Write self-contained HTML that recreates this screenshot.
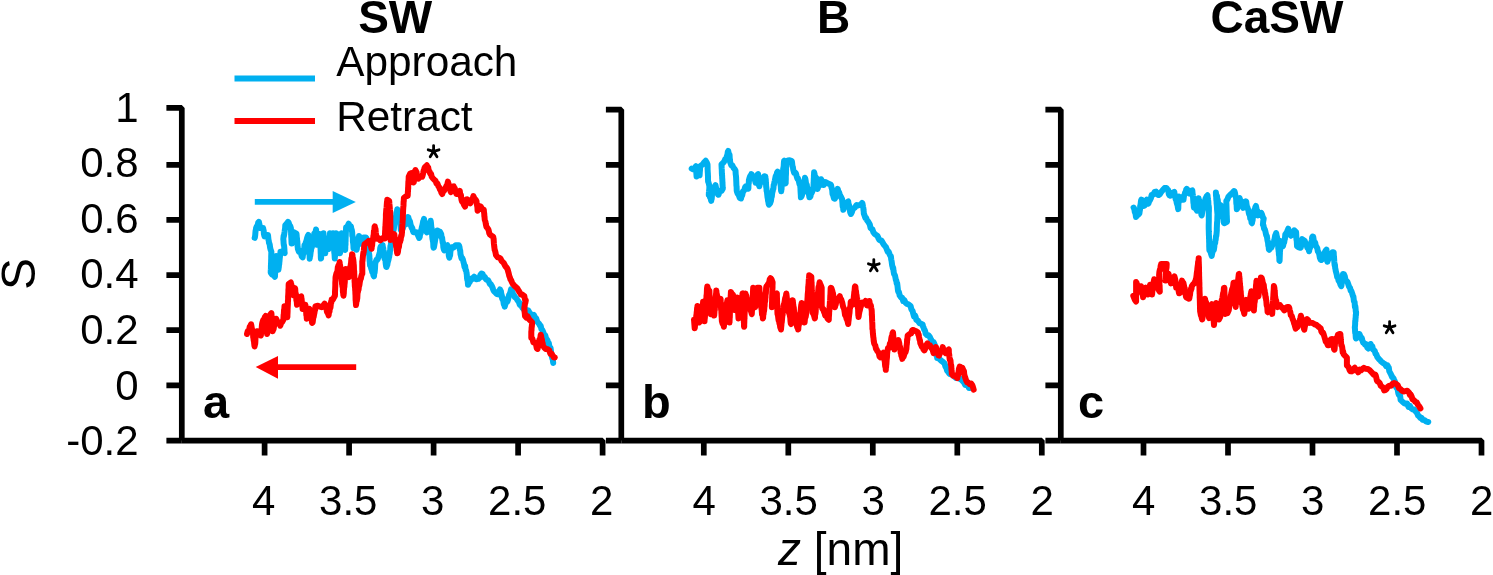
<!DOCTYPE html>
<html><head><meta charset="utf-8"><style>
html,body{margin:0;padding:0;background:#fff;width:1493px;height:575px;overflow:hidden}
svg{display:block;filter:blur(0.45px)}
text{font-family:"Liberation Sans",sans-serif;fill:#000}
.tk{font-size:42px}
.ti{font-size:46px;font-weight:bold}
.lg{font-size:42.3px}
.pl{font-size:47px;font-weight:bold}
.at{font-size:46px}
.sy{font-size:48px}
.as{font-size:34px}
</style></head><body>
<svg width="1493" height="575" viewBox="0 0 1493 575">
<path d="M166.4,107.9H181.8V440.6M166.4,164.9H181.8M166.4,219.9H181.8M166.4,275.1H181.8M166.4,330.1H181.8M166.4,385.3H181.8M166.4,440.6H181.8" stroke="#000" stroke-width="5.7" fill="none" stroke-linejoin="bevel" stroke-linecap="butt"/>
<path d="M181.8,440.6H602.6V455.5M264.6,440.6V455.5M349.1,440.6V455.5M433.6,440.6V455.5M518.1,440.6V455.5" stroke="#000" stroke-width="5.7" fill="none" stroke-linejoin="bevel"/>
<text x="263.8" y="514.6" class="tk" text-anchor="middle">4</text>
<text x="348.3" y="514.6" class="tk" text-anchor="middle">3.5</text>
<text x="432.8" y="514.6" class="tk" text-anchor="middle">3</text>
<text x="517.3" y="514.6" class="tk" text-anchor="middle">2.5</text>
<text x="601.8" y="514.6" class="tk" text-anchor="middle">2</text>
<path d="M605.9,109.7H621.3V440.6M605.9,164.9H621.3M605.9,219.9H621.3M605.9,275.1H621.3M605.9,330.1H621.3M605.9,385.3H621.3M605.9,440.6H621.3" stroke="#000" stroke-width="5.7" fill="none" stroke-linejoin="bevel" stroke-linecap="butt"/>
<path d="M621.3,440.6H1041.8V455.5M703.8,440.6V455.5M788.3,440.6V455.5M872.8,440.6V455.5M957.3,440.6V455.5" stroke="#000" stroke-width="5.7" fill="none" stroke-linejoin="bevel"/>
<text x="704.1" y="514.6" class="tk" text-anchor="middle">4</text>
<text x="788.6" y="514.6" class="tk" text-anchor="middle">3.5</text>
<text x="873.1" y="514.6" class="tk" text-anchor="middle">3</text>
<text x="957.6" y="514.6" class="tk" text-anchor="middle">2.5</text>
<text x="1042.1" y="514.6" class="tk" text-anchor="middle">2</text>
<path d="M1045.3999999999999,109.7H1060.8V440.6M1045.3999999999999,164.9H1060.8M1045.3999999999999,219.9H1060.8M1045.3999999999999,275.1H1060.8M1045.3999999999999,330.1H1060.8M1045.3999999999999,385.3H1060.8M1045.3999999999999,440.6H1060.8" stroke="#000" stroke-width="5.7" fill="none" stroke-linejoin="bevel" stroke-linecap="butt"/>
<path d="M1060.8,440.6H1481.5V455.5M1143.5,440.6V455.5M1228.0,440.6V455.5M1312.5,440.6V455.5M1397.0,440.6V455.5" stroke="#000" stroke-width="5.7" fill="none" stroke-linejoin="bevel"/>
<text x="1143.8" y="514.6" class="tk" text-anchor="middle">4</text>
<text x="1228.3" y="514.6" class="tk" text-anchor="middle">3.5</text>
<text x="1312.8" y="514.6" class="tk" text-anchor="middle">3</text>
<text x="1397.3" y="514.6" class="tk" text-anchor="middle">2.5</text>
<text x="1481.8" y="514.6" class="tk" text-anchor="middle">2</text>
<text x="138.6" y="121.7" class="tk" text-anchor="end">1</text>
<text x="138.6" y="177.3" class="tk" text-anchor="end">0.8</text>
<text x="138.6" y="232.8" class="tk" text-anchor="end">0.6</text>
<text x="138.6" y="288.4" class="tk" text-anchor="end">0.4</text>
<text x="138.6" y="344.0" class="tk" text-anchor="end">0.2</text>
<text x="138.6" y="399.6" class="tk" text-anchor="end">0</text>
<text x="138.6" y="455.1" class="tk" text-anchor="end">-0.2</text>
<text x="395.2" y="33.4" class="ti" text-anchor="middle">SW</text>
<text x="833.7" y="33.4" class="ti" text-anchor="middle">B</text>
<text x="1276.9" y="33.4" class="ti" text-anchor="middle">CaSW</text>
<path d="M234.5,78.5H315" stroke="#00B0F0" stroke-width="5.8"/>
<path d="M234.5,121H315" stroke="#FF0000" stroke-width="5.8"/>
<text x="336.3" y="76.2" class="lg">Approach</text>
<text x="336.3" y="131.4" class="lg">Retract</text>
<path d="M254.8,201.9H334" stroke="#00B0F0" stroke-width="5.8"/>
<path d="M332.7,190.9L355.8,202L332.7,213.1Z" fill="#00B0F0"/>
<path d="M278,367.2H356.2" stroke="#FF0000" stroke-width="5.8"/>
<path d="M278,355.9L255.7,367L278,378.7Z" fill="#FF0000"/>
<text x="203" y="417.8" class="pl">a</text>
<text x="642" y="417.8" class="pl">b</text>
<text x="1078" y="417.8" class="pl">c</text>
<text x="778" y="564.7" class="at"><tspan font-style="italic">z</tspan> [nm]</text>
<text transform="translate(34.8,290) rotate(-90)" class="sy">S</text>
<polyline points="254.7,237.8 254.9,237.3 255.2,235.4 255.4,232.7 255.6,230.6 255.9,229.8 256.1,228.1 256.8,226.2 257.5,225.9 258.2,222.7 258.9,221.8 259.2,223.3 259.6,225.2 259.9,227.8 260.3,228.1 263.1,228.1 263.4,229.8 263.7,230.7 263.9,233.9 264.2,235.1 264.5,236.4 266.2,234.9 268.0,235.0 268.3,238.0 268.5,239.9 268.8,241.0 269.0,243.0 269.3,243.4 269.7,244.5 270.1,247.5 270.6,249.7 271.0,250.6 271.4,251.7 271.3,253.2 271.3,253.6 271.2,256.3 271.2,258.5 271.1,261.1 271.1,262.8 271.0,262.9 271.0,265.7 270.9,265.4 270.9,268.8 270.8,269.5 270.8,269.4 270.7,272.6 272.1,274.7 273.5,275.1 274.9,276.8 275.0,276.2 275.1,274.1 275.2,270.4 275.3,270.3 275.4,269.9 275.5,266.3 275.7,265.0 275.8,265.1 275.9,261.3 276.0,260.9 276.1,258.3 276.2,259.0 276.3,255.9 276.6,258.6 276.8,259.2 277.1,259.8 277.4,262.3 277.6,264.6 277.9,267.7 278.1,266.8 278.4,269.8 278.6,268.3 278.8,267.2 279.0,265.0 279.2,264.2 279.4,261.7 279.5,261.4 279.7,258.6 279.9,256.9 280.1,254.8 280.3,253.7 280.5,251.7 282.6,252.0 284.7,253.1 284.5,251.6 284.4,249.0 284.2,246.9 284.0,245.1 283.8,244.8 283.6,243.2 283.5,240.9 283.3,239.2 283.6,236.1 283.8,236.5 284.1,235.2 284.3,233.6 284.6,231.6 284.8,230.0 285.1,228.4 285.3,225.3 286.7,223.7 288.1,221.8 288.8,223.0 289.5,225.6 290.2,225.8 290.9,228.1 291.0,230.8 291.1,232.6 291.1,234.5 291.2,235.2 291.3,238.0 291.4,238.6 291.4,239.8 291.5,242.2 291.6,243.4 291.9,243.4 292.2,241.6 292.5,239.6 292.8,235.7 293.1,235.8 293.4,233.8 293.7,232.3 296.5,233.7 296.7,235.8 296.8,238.2 297.0,238.0 297.1,241.2 297.3,241.0 297.4,243.0 297.6,246.5 297.7,246.8 297.9,249.0 298.9,251.7 299.8,251.0 300.8,252.8 301.7,256.3 302.7,257.3 303.0,254.1 303.3,254.0 303.6,253.3 303.9,250.3 304.2,248.9 304.5,245.1 304.8,244.8 305.4,243.6 306.0,241.9 306.6,240.1 307.1,237.9 307.7,236.2 308.3,235.0 308.4,238.2 308.5,236.9 308.6,238.5 308.7,243.2 308.8,242.5 308.9,244.0 309.0,245.9 309.1,249.5 309.2,251.6 309.3,250.4 309.4,253.4 309.5,254.0 309.6,256.2 309.7,258.7 310.0,256.2 310.2,256.0 310.5,253.4 310.8,251.2 311.0,250.7 311.3,247.6 311.6,246.2 311.9,247.4 312.1,243.3 312.4,242.2 312.7,241.8 312.9,240.5 313.2,237.8 313.8,237.5 314.3,233.4 314.9,233.4 315.4,232.7 316.0,229.5 316.1,229.8 316.3,233.5 316.4,235.7 316.6,235.8 316.7,237.2 316.9,240.0 317.0,241.2 317.2,242.1 317.3,244.8 317.8,242.9 318.2,240.9 318.6,239.7 319.1,237.7 319.6,235.3 320.0,234.1 320.1,235.3 320.1,238.4 320.2,238.2 320.2,240.8 320.3,240.7 320.4,244.6 320.4,245.0 320.5,245.7 320.5,248.0 320.6,249.5 320.7,253.4 320.7,253.1 320.8,254.6 320.8,256.4 320.9,258.5 321.1,258.3 321.2,255.6 321.4,253.8 321.6,252.5 321.8,249.7 321.9,248.1 322.1,247.2 322.3,243.5 322.5,242.4 322.6,241.2 322.8,239.2 323.0,238.8 323.2,236.3 323.3,236.2 323.5,233.3 323.6,235.2 323.8,236.4 323.9,238.0 324.1,240.6 324.2,241.4 324.4,243.8 324.5,243.5 324.6,246.5 324.8,247.5 324.9,248.9 325.1,251.7 325.2,253.3 325.4,251.5 325.6,250.0 325.8,248.9 325.9,247.6 326.1,244.6 326.3,242.2 326.5,241.1 326.9,242.6 327.4,245.2 327.8,247.0 328.3,248.3 328.7,248.9 328.8,246.2 329.0,247.0 329.1,244.1 329.3,240.6 329.4,241.0 329.6,240.1 329.7,236.5 329.9,235.6 330.0,233.3 330.4,234.3 330.7,235.5 331.1,238.7 331.5,238.0 331.8,242.2 332.2,242.8 332.4,241.0 332.5,237.7 332.7,235.9 332.8,235.7 333.0,233.3 333.1,236.2 333.2,236.0 333.4,239.9 333.5,238.7 333.6,242.8 333.7,243.0 333.8,243.7 334.0,246.0 334.1,248.3 334.2,251.0 334.3,252.9 334.4,252.3 334.6,255.2 334.7,257.3 334.8,258.5 334.9,256.3 335.0,256.3 335.1,252.8 335.1,250.2 335.2,248.6 335.3,249.0 335.4,246.9 335.5,246.5 335.6,244.8 335.7,243.0 335.8,238.6 335.8,239.1 335.9,237.3 336.0,235.5 336.1,233.3 338.7,235.0 338.8,237.3 338.9,239.6 339.1,240.4 339.2,241.2 339.3,243.4 339.4,244.0 339.5,246.9 339.6,246.7 339.8,248.9 339.9,251.1 340.0,253.3 340.1,252.6 340.3,250.7 340.4,247.8 340.6,247.0 340.7,243.5 340.9,242.2 341.0,243.2 341.1,239.3 341.3,238.0 341.4,236.8 341.6,234.3 341.7,233.3 342.0,235.0 342.2,235.9 342.5,237.0 342.7,239.2 343.0,242.0 343.2,242.3 343.5,245.4 344.4,247.3 345.2,249.8 345.3,247.6 345.3,246.3 345.4,243.7 345.5,244.7 345.5,241.6 345.6,241.2 345.6,240.0 345.7,236.4 345.8,235.2 345.8,234.3 345.9,231.8 346.0,229.8 346.0,229.6 346.1,227.2 347.4,226.7 348.7,223.7 349.8,226.3 350.9,226.3 351.3,228.7 351.8,230.0 352.2,232.4 352.3,235.7 352.5,236.3 352.6,236.2 352.8,238.0 352.9,241.9 353.1,241.4 353.2,243.0 353.4,245.9 353.5,248.0 353.8,246.3 354.0,244.4 354.3,242.7 354.5,241.3 354.8,239.3 355.1,241.6 355.4,242.6 355.6,244.1 355.9,247.9 356.2,247.3 356.5,249.8 356.8,248.9 357.1,246.1 357.5,244.1 357.8,241.5 358.1,242.3 358.5,240.0 358.8,238.9 359.1,235.9 359.5,237.3 359.8,239.6 360.2,239.4 360.5,241.8 360.9,243.7 361.5,241.2 362.2,239.2 362.9,240.6 363.5,237.6 366.1,237.6 366.6,238.5 367.1,240.1 367.5,242.0 368.0,244.4 368.5,246.6 368.6,248.5 368.8,248.9 368.9,253.3 369.1,255.0 369.2,254.0 369.4,256.6 369.5,259.1 369.7,261.5 369.8,262.0 370.0,265.0 370.1,265.4 370.7,266.4 371.2,268.5 371.8,270.1 372.3,272.2 372.9,272.3 373.4,275.2 374.0,276.4 374.2,273.7 374.4,272.4 374.6,272.6 374.8,270.6 375.0,268.6 375.2,264.3 375.4,262.9 375.6,262.3 376.4,259.9 377.1,260.1 377.9,258.7 378.7,256.0 379.1,254.7 379.5,253.6 379.9,252.3 380.2,248.3 380.6,246.8 381.0,246.6 382.6,245.1 382.9,248.1 383.1,247.3 383.4,249.7 383.7,250.9 383.9,252.6 384.2,256.0 384.5,258.7 384.9,258.6 385.2,259.6 385.5,261.2 385.8,264.4 386.2,266.9 386.5,267.0 386.9,265.4 387.3,265.2 387.7,262.3 388.1,261.0 388.5,259.7 388.9,257.6 389.2,256.8 389.4,255.0 389.7,254.0 389.9,251.5 390.2,250.2 390.4,246.3 390.7,245.6 390.9,244.0 391.2,242.0 391.5,241.4 391.8,238.6 392.1,238.0 392.5,235.0 392.8,234.0 393.1,233.2 393.4,230.4 393.7,229.7 394.0,227.7 394.3,223.9 394.6,222.9 394.9,222.3 395.2,219.9 395.4,217.6 395.7,218.6 396.0,217.2 396.3,213.5 396.6,212.3 396.9,211.9 397.2,209.3 397.8,209.8 398.5,213.6 399.1,215.0 399.3,215.5 399.5,217.7 399.7,221.2 399.9,220.4 400.2,222.1 400.4,225.0 400.6,227.0 400.8,229.9 401.0,230.4 402.0,229.6 402.9,228.1 403.9,224.9 404.9,224.6 405.5,224.6 406.0,221.3 406.6,220.4 407.1,218.2 407.7,217.0 408.3,217.1 408.9,219.9 409.4,220.4 410.0,221.6 410.6,224.6 411.2,226.5 411.8,228.1 412.3,228.0 412.9,230.9 413.5,232.3 416.3,232.3 417.3,233.7 418.2,235.7 419.2,238.0 419.7,237.0 420.1,234.2 420.6,233.5 421.1,230.4 421.5,229.1 421.9,227.0 422.3,225.9 422.8,223.3 423.2,221.0 423.6,221.1 424.0,218.9 424.4,221.0 424.7,223.2 425.1,222.7 425.4,226.9 425.8,228.2 426.2,230.3 426.5,231.8 426.9,232.3 427.4,231.2 428.0,230.0 428.5,227.4 429.1,226.6 429.6,223.1 430.2,223.3 430.7,220.8 430.9,222.3 431.1,225.0 431.2,225.7 431.4,228.4 431.6,227.8 431.8,229.4 432.0,233.9 432.1,234.2 432.3,237.2 432.5,239.0 432.7,239.8 432.9,241.1 433.1,241.7 433.2,242.9 433.4,246.9 433.6,247.6 433.9,247.3 434.3,245.4 434.6,243.5 435.0,241.1 435.3,239.2 435.7,237.0 436.0,236.4 436.4,235.3 436.7,234.9 437.1,233.4 437.4,230.4 438.7,231.4 439.9,231.7 441.2,234.2 441.5,236.7 441.8,238.2 442.1,237.6 442.4,240.5 442.7,242.9 443.0,242.4 443.3,246.9 443.6,248.6 443.9,249.5 444.2,250.4 445.2,247.3 446.3,245.6 447.3,245.2 447.6,246.5 447.9,247.3 448.2,250.1 448.5,250.8 448.8,255.6 449.1,256.9 449.4,257.7 449.8,254.6 450.1,255.5 450.4,251.5 450.8,249.8 451.1,249.5 451.5,247.2 453.6,247.6 455.7,245.2 458.8,245.2 459.1,245.7 459.5,247.1 459.9,250.0 460.2,250.6 460.5,254.2 460.9,255.6 461.5,258.4 462.1,257.9 462.8,259.3 463.4,261.7 464.0,263.9 464.5,266.9 465.1,265.9 465.6,270.1 466.1,270.2 466.3,271.4 466.6,273.4 466.8,274.4 467.0,278.1 467.3,279.8 467.5,280.4 467.7,280.5 468.0,284.8 468.2,284.8 469.0,282.0 469.8,282.0 470.5,279.1 471.3,278.6 472.8,278.9 474.2,276.7 476.3,279.2 478.4,278.8 479.4,278.0 480.5,274.7 481.5,273.6 482.6,274.1 483.6,277.0 484.6,276.8 485.7,278.8 486.7,279.8 487.8,279.9 488.8,281.5 489.8,284.0 490.6,283.9 491.5,285.6 492.3,287.0 493.2,289.6 494.0,291.3 495.4,292.5 496.8,294.1 498.2,294.4 498.8,291.6 499.4,290.8 500.0,289.4 500.4,291.4 500.9,291.2 501.3,293.9 501.7,295.2 502.1,298.7 502.6,297.4 503.0,300.1 503.4,301.6 503.8,304.2 504.3,304.5 504.7,306.6 505.4,304.1 506.0,302.8 506.6,301.8 507.3,301.8 508.0,299.7 508.6,297.2 509.1,294.9 509.6,294.3 510.0,293.1 510.5,291.9 511.0,289.4 511.8,290.8 512.6,292.2 513.3,294.9 514.1,295.4 514.9,297.2 516.2,298.0 517.5,300.2 518.8,301.9 519.8,304.9 520.8,303.9 521.7,306.5 522.7,308.2 524.1,309.6 525.5,310.0 526.9,310.1 528.3,310.4 529.7,312.9 531.1,314.7 532.5,315.6 533.8,314.8 535.2,317.6 536.2,318.5 537.2,321.6 538.1,322.7 539.1,323.8 539.9,325.5 540.7,325.8 541.4,329.1 542.2,329.9 543.0,331.6 543.8,333.8 544.6,335.6 545.3,335.5 546.1,338.8 546.9,339.5 547.5,340.4 548.2,344.2 548.8,343.0 549.5,347.0 550.1,347.3 550.5,347.8 550.9,350.4 551.2,353.2 551.6,355.1 552.0,357.3 552.4,358.7 552.8,359.7 553.2,362.9" fill="none" stroke="#00B0F0" stroke-width="6.0" stroke-linejoin="round" stroke-linecap="round"/>
<polyline points="247.0,334.0 247.7,331.2 248.4,331.9 249.1,330.0 249.7,326.7 250.4,325.9 251.1,324.3 251.4,325.9 251.8,328.2 252.2,330.4 252.5,331.2 252.7,331.6 253.0,333.1 253.2,337.4 253.4,337.8 253.7,340.5 253.9,339.8 254.1,342.9 254.4,345.5 254.6,346.5 254.8,343.9 255.1,344.5 255.3,342.7 255.5,338.2 255.8,336.5 256.0,336.4 256.2,336.0 256.5,332.5 256.7,331.2 258.1,331.7 259.5,333.8 260.9,335.4 261.1,332.1 261.3,330.9 261.5,329.8 261.7,328.2 261.9,325.6 262.1,323.8 262.3,322.9 263.1,320.3 264.0,319.3 264.9,317.0 265.7,315.9 265.8,316.0 266.0,320.3 266.1,321.0 266.2,322.9 266.3,323.1 266.5,327.3 266.6,328.6 266.7,327.9 266.8,330.2 267.0,333.1 267.1,334.0 267.3,333.0 267.5,332.1 267.7,328.8 267.9,328.5 268.1,326.3 268.2,323.5 268.4,322.8 268.6,322.1 268.8,320.3 269.0,317.6 269.2,315.9 270.2,314.8 271.3,313.1 271.4,313.3 271.6,315.6 271.7,319.0 271.8,319.4 271.9,320.3 272.1,323.1 272.2,325.3 272.3,326.8 272.4,327.5 272.6,329.4 272.7,331.2 273.1,329.7 273.6,329.0 274.0,326.6 274.4,324.6 274.9,323.4 275.3,320.3 275.8,318.8 276.2,318.7 277.0,320.8 277.8,323.0 278.7,323.2 279.5,324.0 280.3,325.7 281.2,322.8 282.2,322.0 283.1,320.1 283.3,319.9 283.5,317.5 283.6,315.0 283.8,314.3 284.0,310.6 284.1,309.7 284.3,309.4 284.5,306.2 284.9,308.0 285.3,309.2 285.7,310.2 286.1,312.7 286.5,315.6 286.9,314.1 287.3,317.3 287.4,316.5 287.4,315.0 287.5,313.5 287.6,311.4 287.6,309.9 287.7,307.3 287.8,305.8 287.9,303.7 287.9,300.8 288.0,301.8 288.1,299.2 288.1,296.3 288.2,295.6 288.3,293.9 288.4,291.8 288.4,290.1 288.5,289.0 288.6,287.6 288.6,285.9 288.7,283.9 290.8,282.5 291.1,284.2 291.4,284.6 291.7,287.0 292.0,288.6 292.3,291.7 292.6,294.4 292.9,295.0 293.4,294.2 293.9,292.5 294.5,290.8 295.0,288.1 295.2,289.0 295.4,292.5 295.6,293.7 295.8,293.4 296.0,294.9 296.2,296.6 296.4,300.6 296.6,300.7 296.8,301.9 297.0,304.8 297.8,303.5 298.7,300.9 299.5,298.4 300.4,297.0 301.2,296.4 301.4,298.3 301.6,298.9 301.8,301.1 302.0,304.3 302.2,305.3 302.4,306.6 302.6,309.0 303.5,307.5 304.5,304.7 305.4,304.8 305.6,306.2 305.8,308.0 305.9,309.0 306.1,310.5 306.3,314.8 306.4,315.3 306.6,316.0 306.8,318.7 307.3,317.4 307.7,316.5 308.2,312.3 308.7,310.7 309.1,309.5 309.6,309.0 309.9,311.4 310.3,311.4 310.6,314.9 311.0,316.5 311.3,317.8 311.6,318.5 312.0,322.7 312.3,322.9 312.7,322.2 313.0,319.6 313.4,317.0 313.7,316.7 314.1,314.2 314.4,313.1 314.8,310.6 315.1,310.0 315.4,306.5 315.8,306.2 317.9,305.8 320.0,306.7 321.6,307.2 323.1,305.8 324.7,303.6 325.3,304.7 325.8,308.1 326.4,308.0 326.9,311.7 327.5,312.7 328.0,313.4 328.6,315.3 328.9,312.9 329.2,310.6 329.5,311.8 329.8,307.5 330.1,308.5 330.5,307.4 330.8,304.5 331.1,301.7 331.4,302.3 331.7,299.6 332.8,299.8 333.8,297.7 334.9,295.7 335.0,294.0 335.0,291.9 335.1,290.1 335.2,288.0 335.2,287.8 335.3,285.3 335.3,282.8 335.4,280.8 335.5,280.9 335.5,278.0 335.6,277.0 336.0,275.3 336.5,273.1 336.9,273.2 337.4,271.7 337.8,267.2 338.3,266.1 338.7,264.9 339.2,265.3 339.6,262.1 339.8,264.7 340.0,264.9 340.2,266.2 340.5,269.3 340.7,271.5 340.9,273.5 341.1,273.8 341.3,275.0 341.5,278.4 341.7,279.5 341.8,280.5 342.0,283.8 342.2,283.1 342.4,286.3 342.6,285.9 342.8,287.9 342.9,292.0 343.1,291.4 343.3,294.8 343.5,295.7 343.6,294.4 343.8,293.5 343.9,290.3 344.1,288.5 344.2,286.7 344.4,286.9 344.5,284.4 344.6,283.9 344.8,282.0 344.9,277.9 345.1,277.6 345.2,274.5 345.4,272.6 345.5,271.1 345.7,271.9 345.8,269.1 346.4,271.6 347.1,273.3 347.7,273.3 348.4,275.8 349.0,277.0 349.2,276.3 349.4,273.4 349.7,272.4 349.9,269.6 350.1,267.6 350.3,266.5 350.6,266.9 350.8,264.2 351.0,263.8 351.2,260.7 351.4,258.5 351.7,258.5 351.9,257.0 352.1,254.3 352.4,254.5 352.7,258.3 353.0,258.2 353.3,259.9 353.6,262.9 353.7,265.8 353.8,264.7 353.9,266.9 354.0,271.0 354.1,270.8 354.2,271.4 354.2,273.2 354.3,275.1 354.4,278.3 354.5,277.9 354.6,282.1 354.7,282.0 354.8,285.5 354.9,286.9 355.0,286.6 355.1,288.1 355.2,290.4 355.3,290.8 355.4,294.2 355.4,293.9 355.5,295.4 355.6,300.2 355.7,299.6 355.8,302.2 355.9,303.3 356.0,305.1 356.3,302.8 356.5,300.2 356.8,301.2 357.0,299.7 357.3,297.9 357.5,293.5 357.8,292.1 358.0,291.6 358.3,289.5 358.6,289.5 358.9,286.5 359.3,285.4 359.6,283.7 359.9,281.6 360.4,279.3 360.9,278.6 361.3,276.3 361.8,274.5 362.3,273.8 362.3,270.7 362.3,269.5 362.3,270.0 362.3,266.5 362.3,265.4 362.3,263.5 362.3,261.3 362.5,261.0 362.8,257.5 363.0,255.5 363.2,253.9 363.5,252.1 363.7,252.1 363.9,250.5 364.1,246.9 364.4,245.3 364.6,244.1 365.9,243.2 367.2,242.3 368.5,241.0 369.1,242.9 369.7,243.3 370.4,244.1 371.0,246.4 371.6,248.8 371.8,245.8 372.1,245.7 372.3,242.6 372.5,241.0 372.7,241.2 373.0,238.5 373.2,238.5 373.4,235.9 373.7,235.5 373.9,231.6 374.1,231.1 374.3,230.5 374.6,226.6 374.8,226.3 375.1,229.5 375.5,228.8 375.8,232.5 376.1,235.0 376.4,236.3 376.8,236.4 377.1,238.8 378.7,238.3 380.3,240.4 381.6,239.2 382.9,238.0 384.8,238.5 384.9,238.2 385.0,234.5 385.0,234.8 385.1,230.7 385.2,231.5 385.3,227.1 385.4,226.3 385.5,226.5 385.5,224.6 385.6,223.2 385.7,221.4 385.8,219.4 385.9,217.6 385.9,214.3 386.0,213.4 386.1,212.0 386.3,209.1 386.4,209.2 386.6,207.3 386.8,204.2 387.0,201.8 387.1,202.9 387.3,199.7 389.2,201.0 389.4,203.8 389.5,204.8 389.7,206.6 389.9,209.5 390.0,210.0 390.2,212.0 390.2,213.3 390.2,214.8 390.3,216.1 390.3,217.0 390.3,220.7 390.3,221.6 390.3,223.7 390.3,223.7 390.4,226.3 390.4,227.3 390.4,228.9 390.4,230.9 390.4,234.4 390.4,234.6 390.5,236.3 390.5,238.6 390.5,239.9 391.4,237.6 392.4,235.5 393.4,235.7 394.3,234.2 394.5,235.8 394.8,237.9 395.0,238.8 395.3,241.2 395.5,242.9 395.8,242.9 396.0,245.3 396.2,246.9 396.5,247.6 396.7,249.8 397.0,251.9 397.2,253.3 397.6,253.0 398.0,251.4 398.4,247.7 398.9,247.2 399.3,243.6 399.7,242.1 400.1,241.8 400.4,240.3 400.7,239.8 401.1,236.0 401.4,236.3 401.7,235.1 402.0,232.3 402.1,230.1 402.2,229.7 402.2,228.6 402.3,225.5 402.4,224.9 402.5,223.5 402.6,221.4 402.7,220.6 402.8,219.2 402.8,217.8 402.9,214.9 403.0,213.1 403.1,210.4 403.2,208.9 403.3,207.1 403.4,206.5 403.5,205.4 403.6,201.5 403.7,201.8 403.8,200.2 403.9,197.8 405.8,196.4 407.7,195.9 407.8,194.2 407.9,191.4 408.0,191.4 408.1,187.5 408.2,188.8 408.2,186.5 408.3,184.2 408.4,181.3 408.5,181.6 408.6,180.0 408.7,176.8 410.1,173.7 411.6,173.0 411.9,175.5 412.2,177.3 412.6,178.3 412.9,180.0 413.2,180.7 413.5,182.5 413.8,182.1 414.0,180.5 414.3,176.8 414.6,176.4 414.9,173.4 415.1,170.8 415.4,170.1 416.0,171.3 416.6,172.3 417.1,176.6 417.7,178.5 418.3,178.7 420.2,176.5 422.1,176.8 422.6,175.5 423.1,173.3 423.6,170.8 424.0,169.7 424.5,168.0 425.0,167.2 426.9,165.3 427.5,168.0 428.2,167.5 428.8,171.0 429.5,171.5 430.2,173.7 431.0,173.8 431.7,176.8 433.0,178.5 434.2,179.7 435.5,180.6 436.5,183.6 437.4,183.5 438.4,186.3 439.2,187.2 439.9,189.5 440.7,190.2 441.4,192.7 442.2,194.0 443.1,191.3 444.1,190.8 445.0,188.3 445.7,187.6 446.4,185.9 447.2,184.8 447.9,181.6 448.4,183.5 448.9,185.1 449.4,188.0 449.8,189.5 450.3,190.6 450.8,192.1 451.5,190.3 452.2,188.5 453.0,186.5 453.7,186.3 454.3,188.8 454.8,188.2 455.4,191.7 455.9,192.6 456.5,194.0 458.1,193.9 459.8,190.9 460.1,193.5 460.5,195.9 460.9,194.9 461.2,197.8 461.5,199.8 461.9,201.3 463.0,202.4 464.0,204.8 465.1,206.5 465.6,204.2 466.1,202.9 466.6,199.4 467.1,199.2 468.2,200.4 469.2,201.8 470.3,203.4 471.1,201.0 471.9,199.4 472.6,198.8 473.4,196.1 474.4,198.4 475.5,199.5 476.5,201.3 476.7,203.7 476.9,204.7 477.2,206.0 477.4,207.2 477.6,210.7 478.6,208.6 479.7,208.2 480.7,206.5 482.2,209.3 483.8,209.7 484.0,212.5 484.2,213.2 484.4,216.5 484.5,216.5 484.7,219.4 484.9,220.1 485.4,221.6 485.9,224.5 486.5,227.1 487.0,227.4 487.8,228.6 488.6,230.0 489.3,233.3 490.1,234.7 491.6,235.8 493.2,236.8 493.4,238.1 493.6,238.7 493.8,241.6 493.9,243.5 494.1,245.2 494.3,247.2 494.7,250.0 495.1,250.8 495.6,253.0 496.0,255.2 496.4,255.6 497.8,257.4 499.1,257.6 500.5,258.7 501.6,260.9 502.6,261.9 503.7,262.9 504.7,265.0 505.6,266.6 506.6,267.5 507.6,269.4 508.2,271.6 508.7,273.4 509.3,276.1 509.9,277.4 510.4,279.3 511.0,280.0 512.0,282.4 513.0,284.2 513.9,285.1 514.9,286.3 516.2,287.4 517.5,288.7 518.8,291.0 520.0,292.8 521.1,294.5 522.3,294.6 523.5,295.6 524.3,296.1 525.0,299.8 525.8,300.3 525.5,301.8 525.2,303.4 524.9,303.6 524.6,306.7 524.3,308.2 524.5,310.9 524.6,311.9 524.8,313.6 525.0,316.0 526.3,317.5 527.7,316.5 529.0,319.1 530.5,320.7 532.1,322.3 531.9,325.6 531.8,326.6 531.6,327.6 531.5,330.3 531.3,331.6 531.3,334.0 531.3,334.9 531.3,337.9 532.3,338.5 533.4,342.3 534.4,342.6 535.2,343.4 536.0,344.4 536.8,348.4 537.6,348.9 537.9,347.4 538.3,345.3 538.6,344.2 539.0,343.4 539.3,340.0 539.7,340.0 540.0,338.6 540.4,337.4 540.7,334.8 541.1,335.9 541.5,338.8 541.9,339.4 542.2,342.3 542.6,342.8 543.0,345.7 544.3,347.7 545.6,349.0 546.9,348.9 548.1,349.5 549.2,350.4 550.4,353.9 551.6,353.6 552.7,355.6 553.7,357.3 554.8,357.5" fill="none" stroke="#FF0000" stroke-width="6.0" stroke-linejoin="round" stroke-linecap="round"/>
<polyline points="691.7,168.6 693.1,169.3 694.6,168.4 696.0,166.2 696.1,166.5 696.2,168.3 696.3,172.4 696.4,173.8 696.5,175.3 696.6,176.5 698.1,175.3 699.6,175.3 699.7,173.8 699.8,172.0 700.0,170.1 700.1,166.9 700.2,166.2 702.7,164.4 704.2,162.3 705.7,160.7 706.6,162.2 707.5,164.4 707.6,166.8 707.6,169.4 707.7,170.9 707.7,171.3 707.8,172.7 707.9,173.9 707.9,174.8 708.0,176.5 708.0,179.6 708.1,181.4 708.5,182.5 709.0,184.3 709.4,186.3 709.3,189.3 709.2,189.8 709.0,191.6 708.9,192.3 708.8,194.8 709.4,194.8 710.0,197.3 710.6,198.2 711.2,200.9 711.4,199.3 711.7,199.1 711.9,196.4 712.1,193.2 712.3,193.8 712.5,191.8 712.8,189.9 713.0,187.5 714.2,187.6 715.5,185.1 716.0,187.6 716.5,189.3 717.0,189.5 717.5,193.1 718.0,194.7 718.5,194.8 719.4,191.9 720.3,191.2 721.5,190.8 722.8,188.7 722.7,187.8 722.6,185.3 722.5,183.9 722.5,182.2 722.4,182.0 722.3,179.0 722.2,178.4 722.1,175.3 722.0,175.3 721.9,173.8 721.8,170.8 721.8,169.5 721.7,169.0 721.6,166.7 721.5,164.4 722.8,163.1 724.0,161.9 725.2,159.2 726.4,158.3 726.9,155.9 727.3,155.3 727.8,151.8 728.2,151.0 728.9,154.1 729.5,154.6 729.6,155.7 729.8,159.6 730.0,159.5 730.1,161.9 731.3,165.2 732.5,165.6 733.5,167.9 734.5,168.9 735.5,170.5 735.6,172.2 735.7,174.2 735.9,175.6 736.0,176.4 736.1,177.6 736.2,180.2 736.3,182.1 736.4,185.3 736.5,186.1 736.6,186.2 736.7,190.4 736.8,191.2 737.7,193.7 738.6,194.8 739.8,198.0 741.0,198.5 741.6,195.7 742.2,195.6 742.9,191.6 743.5,191.2 744.3,190.1 745.1,187.2 745.9,186.3 747.1,186.6 748.3,188.7 748.4,188.2 748.5,184.0 748.7,183.7 748.8,183.0 748.9,180.2 749.5,177.9 750.1,176.2 750.8,176.8 751.4,174.1 752.2,175.5 753.0,178.1 753.8,179.0 754.7,179.3 755.6,182.6 756.1,180.5 756.6,178.2 757.1,178.1 757.6,174.5 758.1,174.1 758.3,177.3 758.4,176.1 758.6,180.1 758.8,179.5 759.0,182.0 759.1,185.6 759.3,186.3 759.9,183.7 760.5,182.2 761.1,182.3 761.7,180.2 762.9,178.6 764.2,176.3 765.4,176.5 765.5,179.7 765.7,178.7 765.8,179.9 765.9,182.5 766.1,185.0 766.2,187.1 766.3,186.7 766.5,189.0 766.6,191.2 766.9,191.4 767.2,194.4 767.5,197.1 767.8,198.7 768.1,200.9 768.4,202.1 768.7,204.1 769.0,204.6 770.0,203.4 770.9,200.9 771.2,199.2 771.5,196.8 771.8,196.6 772.1,193.8 772.4,191.5 772.7,191.2 773.0,189.3 773.4,188.9 773.7,184.8 774.1,184.5 774.4,182.1 774.8,180.8 775.1,179.0 775.7,176.0 776.4,176.8 777.0,172.8 777.6,171.7 778.2,173.6 778.8,174.6 779.4,176.5 779.6,176.6 779.8,180.0 780.0,180.2 780.2,181.6 780.4,183.2 780.6,185.2 780.8,186.6 781.0,190.0 781.2,191.2 781.3,189.6 781.5,189.5 781.6,187.7 781.7,186.2 781.9,182.2 782.0,181.2 782.1,179.0 782.3,178.4 782.4,176.5 782.6,175.1 782.8,173.9 783.0,171.9 783.2,168.7 783.5,167.5 783.7,166.1 783.9,162.6 784.1,161.0 784.3,160.7 784.4,162.0 784.5,162.7 784.6,166.3 784.7,166.4 784.8,167.5 784.9,169.4 785.0,171.2 785.0,172.8 785.1,175.4 785.2,176.8 785.3,177.9 785.4,180.6 785.5,180.9 785.6,183.4 785.7,183.1 785.7,181.6 785.8,179.3 785.8,176.7 785.9,175.3 786.0,173.9 786.0,170.6 786.1,170.1 786.1,168.9 786.2,166.1 786.2,164.2 786.3,163.9 787.0,163.1 787.6,160.4 789.7,160.3 791.8,161.1 792.1,162.8 792.4,165.8 792.6,166.5 792.9,167.1 793.2,169.5 794.1,172.8 795.0,172.5 795.8,173.1 796.7,176.4 797.4,178.7 798.1,178.5 798.8,180.8 799.5,184.2 800.2,184.8 800.3,187.1 800.4,186.8 800.5,190.0 800.6,191.7 800.7,193.7 800.8,194.6 800.9,197.3 801.8,195.7 802.7,192.2 803.6,191.7 803.8,189.3 804.0,187.8 804.1,187.9 804.3,183.4 804.5,183.8 804.6,180.3 804.8,179.8 805.0,177.8 805.4,179.1 805.7,180.9 806.0,183.5 806.4,184.0 806.8,184.8 807.1,187.6 807.6,188.0 808.0,189.5 808.5,193.6 809.0,194.5 809.4,197.2 809.9,197.3 810.5,196.3 811.1,192.5 811.6,193.0 812.2,191.7 812.8,189.9 813.4,187.6 813.5,185.9 813.6,183.7 813.6,182.4 813.7,181.8 813.8,178.4 813.9,177.5 813.9,175.6 814.0,175.5 814.1,172.3 814.8,175.1 815.5,177.3 816.2,177.8 816.4,180.7 816.7,180.8 816.9,182.5 817.1,185.2 817.4,186.3 817.6,188.9 818.2,187.1 818.7,186.2 819.3,185.4 819.9,182.7 820.4,181.8 821.0,179.2 821.5,179.8 821.9,182.5 822.4,184.8 823.8,185.0 825.2,182.0 828.0,183.4 830.8,184.8 831.1,185.3 831.5,187.8 831.8,188.3 832.2,189.9 832.5,194.1 832.9,194.5 833.9,198.2 834.9,198.7 835.4,197.5 835.8,194.2 836.3,193.1 836.8,191.3 837.2,191.1 837.7,188.9 838.4,191.3 839.1,192.4 839.8,194.5 840.8,196.7 841.9,198.7 842.1,199.3 842.4,202.5 842.6,205.7 842.8,206.9 843.1,206.7 843.3,209.8 844.0,208.1 844.7,207.0 845.4,203.8 846.1,202.9 848.2,201.5 848.6,204.5 849.0,204.9 849.4,207.5 849.7,208.3 850.1,212.0 850.5,213.1 850.9,214.0 851.8,212.4 852.8,209.1 853.7,208.4 855.1,207.3 856.5,205.0 857.9,205.6 859.3,205.0 860.7,205.0 862.1,202.9 862.5,203.7 863.0,206.6 863.4,208.4 863.5,210.0 863.7,211.4 863.8,213.4 864.6,215.6 865.4,217.9 866.2,218.0 867.0,220.2 867.7,221.0 868.8,222.7 869.8,224.5 870.6,228.1 871.5,228.7 872.5,229.6 873.4,232.3 874.3,233.5 875.3,234.4 877.6,236.0 878.4,238.2 879.3,239.9 880.1,240.2 881.3,240.4 882.5,242.4 883.7,244.5 884.9,245.9 885.9,247.0 886.8,249.3 887.8,251.8 888.7,251.7 889.6,254.3 890.5,256.0 890.9,256.2 891.2,259.4 891.6,261.2 891.9,263.5 892.2,265.6 892.5,266.5 892.9,268.6 893.2,267.7 893.5,270.8 894.0,273.8 894.5,274.7 895.0,275.5 895.4,277.5 895.9,280.1 896.3,280.4 896.7,283.5 897.1,282.9 897.5,286.0 897.8,288.9 898.0,290.7 898.3,291.8 899.0,292.3 899.7,295.5 900.4,296.4 901.1,297.6 902.2,297.8 903.2,301.0 904.3,300.1 905.4,302.5 907.0,303.9 908.5,304.4 910.1,305.6 910.7,306.4 911.3,309.0 912.0,310.2 912.6,311.0 913.2,313.5 914.0,316.5 914.8,315.2 915.5,316.6 916.3,319.7 917.9,320.8 919.5,323.1 921.0,323.7 922.6,324.4 923.1,326.8 923.6,327.5 924.2,329.7 924.7,330.1 925.2,331.5 925.7,333.8 927.1,335.3 928.4,335.2 929.8,336.9 931.1,339.7 932.3,342.1 933.5,341.9 934.7,344.6 935.0,347.1 935.3,348.9 935.6,349.3 936.0,351.9 936.3,353.9 936.6,355.8 936.9,355.2 937.2,358.0 938.6,357.8 940.0,359.5 941.3,360.7 942.7,361.7 943.6,362.6 944.5,363.2 945.4,366.5 946.3,367.8 947.1,370.8 947.8,370.4 948.6,372.4 949.4,373.8 951.0,374.3 952.6,375.3 954.2,376.3 955.8,377.9 957.5,376.5 959.1,377.5 960.3,379.2 961.6,379.9 962.8,381.2 964.0,382.5 965.2,384.9 966.4,384.8 967.6,384.5 968.9,387.9 970.1,387.9" fill="none" stroke="#00B0F0" stroke-width="6.0" stroke-linejoin="round" stroke-linecap="round"/>
<polyline points="694.0,319.8 694.1,320.6 694.3,323.3 694.4,324.4 694.6,326.9 694.7,328.2 694.9,327.0 695.1,323.6 695.3,321.9 695.5,322.9 695.7,319.5 695.9,317.8 696.1,318.6 696.3,315.4 696.5,314.9 696.7,312.2 696.9,311.1 697.1,308.0 697.3,307.9 697.5,305.9 697.6,308.7 697.8,309.3 697.9,311.7 698.1,313.1 698.2,312.9 698.3,316.7 698.5,317.9 698.6,318.6 698.8,319.4 698.9,322.6 699.6,322.0 700.3,319.0 701.0,318.1 701.7,315.6 701.9,315.1 702.1,312.8 702.2,311.7 702.4,308.3 702.6,307.9 702.8,305.0 702.9,304.8 703.1,301.7 703.2,304.5 703.3,303.7 703.5,305.4 703.6,307.3 703.7,311.3 703.8,311.2 703.9,313.5 704.0,314.1 704.1,316.3 704.3,317.6 704.4,319.1 704.5,321.2 704.6,319.8 704.8,318.2 704.9,317.5 705.0,315.2 705.2,314.3 705.3,312.4 705.4,311.2 705.6,308.5 705.7,305.2 705.8,305.8 706.0,304.5 706.1,302.6 706.2,299.9 706.4,298.7 706.5,295.4 706.6,295.7 706.8,293.3 706.9,290.7 707.0,288.3 707.2,289.2 707.3,286.4 708.3,290.1 709.3,290.6 709.4,291.0 709.5,294.9 709.6,295.4 709.7,296.2 709.8,298.4 709.9,301.6 710.0,303.6 710.1,302.6 710.2,306.1 710.3,306.0 710.4,309.8 710.5,310.3 710.6,313.7 710.7,314.2 711.1,314.1 711.5,310.9 712.0,310.8 712.4,307.0 712.8,305.9 713.0,306.2 713.3,309.5 713.5,309.3 713.7,311.4 714.0,313.7 714.2,315.6 714.3,314.3 714.5,311.2 714.6,309.1 714.8,310.1 714.9,306.7 715.0,307.1 715.2,305.2 715.3,301.9 715.5,300.5 715.6,299.0 715.7,297.7 715.9,295.9 716.0,294.1 716.2,292.7 716.3,290.6 716.6,293.7 716.8,294.1 717.1,295.6 717.3,298.3 717.6,298.4 717.9,300.4 718.1,304.3 718.4,304.5 719.1,302.7 719.8,300.9 720.5,298.9 720.6,299.1 720.7,302.1 720.8,304.3 720.9,304.2 721.0,307.8 721.1,309.6 721.3,309.5 721.4,313.0 721.5,314.2 721.6,316.6 721.7,317.3 721.8,320.1 721.9,321.2 722.6,323.8 723.2,323.4 723.9,326.8 724.1,323.8 724.2,324.1 724.4,323.5 724.5,319.6 724.7,318.6 724.9,317.5 725.0,315.0 725.2,313.5 725.4,311.7 725.5,310.3 725.7,309.4 725.8,306.9 726.0,305.9 726.5,303.6 726.9,303.0 727.4,300.3 727.6,300.5 727.7,304.0 727.9,306.2 728.0,306.6 728.2,308.0 728.4,311.6 728.5,311.5 728.7,313.0 728.9,315.5 729.0,318.1 729.2,317.9 729.3,320.3 729.5,322.6 729.6,320.5 729.6,320.4 729.7,317.6 729.8,317.3 729.9,313.5 729.9,312.4 730.0,311.8 730.1,310.9 730.2,307.9 730.2,305.6 730.3,303.7 730.4,303.4 730.5,300.7 730.5,301.0 730.6,299.5 730.7,295.8 730.8,294.5 730.8,294.6 730.9,292.0 732.0,293.9 733.0,294.8 733.2,297.5 733.5,297.7 733.7,298.7 733.9,300.9 734.2,304.2 734.4,304.3 734.6,306.2 734.9,308.1 735.1,310.1 735.4,308.1 735.7,306.2 736.0,306.1 736.3,301.9 736.6,299.6 736.9,300.8 737.2,297.6 737.3,300.4 737.4,302.4 737.5,302.2 737.6,305.4 737.7,307.0 737.8,306.3 737.9,309.6 738.0,311.5 738.1,312.5 738.2,313.7 738.3,314.5 738.4,316.3 738.5,318.4 739.0,315.8 739.5,313.6 740.1,313.5 740.6,311.5 740.8,309.2 741.0,309.2 741.2,305.1 741.4,306.2 741.6,303.9 741.7,303.0 741.9,301.3 742.1,299.6 742.3,296.9 742.5,293.5 742.7,293.4 742.8,295.9 742.8,295.7 742.9,297.8 743.0,300.6 743.1,301.8 743.1,303.1 743.2,306.5 743.3,307.1 743.3,307.9 743.4,309.3 743.5,312.9 743.5,313.4 743.6,316.0 743.7,316.3 743.8,317.5 743.8,320.2 743.9,322.8 744.0,322.4 744.0,326.1 744.1,326.8 744.2,326.5 744.2,324.4 744.3,322.8 744.4,318.5 744.5,318.9 744.5,317.9 744.6,313.7 744.7,312.7 744.7,311.0 744.8,310.2 744.9,308.2 744.9,306.7 745.0,306.0 745.1,301.8 745.1,300.3 745.2,298.9 745.3,297.2 745.4,295.4 745.4,296.6 745.5,293.4 745.9,296.2 746.3,295.4 746.8,298.4 747.2,299.5 747.6,301.7 748.3,303.0 749.0,305.0 749.7,307.3 750.2,309.5 750.8,311.0 751.3,312.0 751.8,314.2 751.9,311.6 752.0,310.4 752.1,308.0 752.1,307.8 752.2,306.6 752.3,303.9 752.4,301.3 752.5,300.0 752.6,298.9 752.7,298.0 752.8,297.0 752.9,294.0 752.9,293.7 753.0,291.5 753.1,289.2 753.2,287.8 753.4,289.0 753.5,291.0 753.7,293.3 753.9,294.0 754.0,296.5 754.2,297.4 754.4,298.4 754.5,300.9 754.7,303.0 754.9,302.7 755.0,305.4 755.2,307.3 755.4,305.4 755.6,305.3 755.7,303.8 755.9,300.4 756.1,300.4 756.2,298.5 756.4,295.2 756.6,294.2 756.8,291.5 756.9,292.1 757.1,289.9 757.3,287.8 759.4,287.8 759.5,290.7 759.7,292.0 759.8,293.3 759.9,295.1 760.0,296.2 760.2,296.4 760.3,299.6 760.4,299.4 760.5,301.5 760.7,305.1 760.8,305.9 761.1,306.2 761.4,308.2 761.7,310.0 762.0,314.3 762.3,313.8 762.6,315.1 762.9,318.4 763.1,317.8 763.3,313.8 763.5,314.5 763.7,312.3 764.0,311.1 764.2,309.8 764.4,307.0 764.6,306.0 764.8,301.9 765.0,301.7 765.2,300.9 765.3,298.3 765.5,297.3 765.6,293.6 765.8,294.0 765.9,292.9 766.1,288.4 766.2,287.5 766.4,286.4 767.4,285.2 768.4,283.6 769.1,282.8 769.8,279.1 770.5,278.1 771.5,279.2 772.6,282.3 772.6,283.2 772.5,286.0 772.5,288.1 772.4,288.6 772.4,290.2 772.3,292.0 772.3,293.5 772.2,295.4 772.2,296.0 772.1,299.0 772.1,302.1 772.0,302.0 772.0,304.8 771.9,304.5 771.9,307.3 772.2,306.3 772.6,305.0 773.0,303.2 773.3,301.1 773.6,299.4 774.0,298.4 774.4,297.6 774.7,294.8 776.8,293.4 776.9,293.9 776.9,295.3 777.0,299.0 777.0,301.1 777.1,301.5 777.1,302.8 777.2,305.3 777.2,305.2 777.3,307.1 777.3,308.4 777.4,311.3 777.4,312.0 777.5,314.2 777.9,315.0 778.3,318.2 778.7,320.8 779.1,320.3 779.4,323.4 779.8,324.1 780.2,327.2 780.6,328.1 781.0,329.5 781.2,327.1 781.4,325.2 781.5,322.9 781.7,322.7 781.9,320.7 782.1,318.3 782.2,317.3 782.4,315.4 782.6,315.2 782.8,311.5 783.0,312.5 783.1,309.2 783.3,307.9 783.5,305.9 783.9,304.2 784.2,303.8 784.5,302.2 784.9,299.8 785.2,298.0 785.6,297.2 785.9,296.1 786.3,293.4 786.5,294.8 786.8,297.6 787.0,300.1 787.3,300.2 787.5,301.2 787.8,303.0 788.0,306.3 788.3,307.3 788.6,309.5 788.9,312.1 789.1,313.4 789.4,313.2 789.7,314.7 790.0,316.5 790.3,318.0 790.5,321.3 790.8,323.5 791.1,324.0 791.2,323.6 791.3,319.8 791.4,320.1 791.5,316.6 791.6,315.3 791.7,314.6 791.8,310.8 791.9,309.2 792.0,309.8 792.1,306.4 792.2,304.9 792.3,303.9 792.4,302.6 792.5,300.3 792.8,300.4 793.0,303.1 793.3,305.0 793.5,306.8 793.8,307.6 794.0,310.4 794.3,313.3 794.5,313.1 794.8,315.3 795.0,315.5 795.3,318.4 795.7,319.3 796.1,322.1 796.5,321.9 796.9,326.0 797.3,327.6 797.7,326.6 798.1,329.5 798.3,329.3 798.5,325.8 798.8,325.4 799.0,323.7 799.2,320.6 799.4,320.2 799.6,318.4 799.9,317.3 800.1,313.9 800.3,313.8 800.5,312.8 800.7,310.3 800.9,308.2 801.2,305.2 801.4,304.7 801.6,303.1 801.8,304.3 802.0,307.0 802.3,308.5 802.5,309.8 802.7,310.2 803.0,313.3 803.2,314.9 803.4,315.1 803.6,319.0 803.8,319.8 804.1,319.8 804.3,322.6 804.6,322.4 805.0,318.2 805.3,317.2 805.7,316.8 806.0,314.8 806.4,312.9 806.5,311.4 806.6,310.1 806.8,307.9 806.9,305.8 807.0,303.7 807.1,301.7 807.3,302.1 807.4,300.6 807.5,298.3 807.6,297.3 807.7,294.5 807.9,292.5 808.0,291.3 808.1,291.2 808.2,286.9 808.3,286.8 808.5,284.3 808.6,284.3 808.7,281.4 808.8,279.7 809.0,278.3 809.1,277.1 809.2,275.3 811.3,276.7 811.4,279.2 811.4,279.5 811.5,282.7 811.6,282.0 811.6,284.2 811.7,285.3 811.7,287.0 811.8,290.8 811.9,292.2 811.9,292.1 812.0,293.8 812.1,296.2 812.1,298.9 812.2,300.7 812.3,302.2 812.3,303.3 812.4,303.5 812.4,306.0 812.5,307.0 812.6,309.7 812.6,311.5 812.7,312.9 813.4,313.8 814.1,315.8 814.8,318.4 815.0,317.7 815.1,313.6 815.3,314.5 815.5,313.2 815.7,311.7 815.8,308.3 816.0,307.2 816.2,305.7 816.4,304.2 816.5,303.7 816.7,301.1 816.9,298.9 817.2,296.6 817.4,296.7 817.7,293.9 818.0,292.6 818.2,291.3 818.5,287.3 818.8,288.1 819.1,286.1 819.3,283.9 819.6,282.3 820.3,284.2 821.0,285.8 821.7,287.8 821.7,288.5 821.7,291.2 821.7,291.3 821.7,294.4 821.7,296.5 821.7,297.5 821.7,299.5 821.7,302.4 821.7,303.9 821.7,303.1 821.7,305.9 822.3,308.5 822.9,309.5 823.5,309.3 824.0,311.9 824.6,313.1 825.2,315.6 826.4,315.6 827.5,318.5 828.7,319.8 828.8,319.6 828.9,316.0 829.0,316.2 829.1,314.0 829.2,310.6 829.3,311.3 829.4,308.9 829.5,308.4 829.6,306.1 829.8,304.6 829.9,301.7 830.0,301.6 830.1,300.4 830.2,298.6 830.3,295.6 830.4,295.0 830.5,292.6 830.6,289.7 830.7,287.9 830.8,287.8 831.5,288.3 832.2,290.6 832.9,293.4 833.1,294.1 833.4,296.9 833.6,299.3 833.9,300.5 834.1,301.8 834.4,304.3 834.6,304.9 834.9,307.3 835.3,305.5 835.7,304.8 836.2,301.9 836.6,299.6 837.0,298.9 838.4,298.8 839.8,296.2 840.5,298.7 841.2,299.4 841.9,301.7 842.3,303.0 842.8,305.3 843.2,307.2 843.6,307.8 844.1,308.8 844.5,311.2 845.0,314.8 845.4,315.6 846.0,316.1 846.5,318.8 847.1,319.7 847.6,321.4 848.2,324.0 848.4,321.4 848.6,320.5 848.8,318.2 849.0,316.1 849.2,314.8 849.4,313.4 849.5,312.8 849.7,309.8 849.9,308.1 850.1,307.9 850.3,306.2 850.5,305.5 850.7,301.9 850.9,301.7 852.0,302.8 853.0,304.5 853.2,302.5 853.4,299.7 853.6,301.1 853.8,297.0 854.0,295.0 854.1,294.5 854.3,291.9 854.5,291.7 854.7,289.2 854.9,286.8 855.1,286.4 855.4,286.8 855.7,290.7 856.0,291.0 856.3,294.5 856.6,295.2 856.9,298.5 857.2,298.9 857.3,299.9 857.5,301.4 857.6,303.1 857.7,306.5 857.8,307.5 858.0,308.3 858.1,309.1 858.2,312.6 858.3,315.2 858.5,315.6 858.6,317.0 859.0,313.8 859.3,312.3 859.7,310.8 860.0,309.5 860.4,307.4 860.7,307.3 861.2,304.3 861.8,304.6 862.3,302.5 863.9,303.0 865.5,301.0 866.3,301.6 867.0,305.6 867.8,305.6 868.3,304.0 868.9,303.5 869.4,301.0 869.9,304.2 870.3,306.1 870.8,305.1 871.2,307.8 871.7,310.3 871.8,312.4 871.8,315.1 871.9,314.1 872.0,316.5 872.1,320.0 872.1,319.3 872.2,321.9 872.3,323.4 872.4,326.3 872.4,328.8 872.5,329.1 872.7,329.8 872.9,333.4 873.1,335.1 873.3,337.2 873.5,338.1 873.7,341.0 873.9,341.0 874.1,343.2 874.7,344.5 875.3,345.5 876.0,348.8 876.6,349.4 877.2,351.0 878.0,351.8 878.8,353.1 879.5,356.4 880.3,357.3 881.4,356.1 882.4,354.8 883.5,352.6 883.7,354.0 884.0,356.0 884.2,356.7 884.4,360.2 884.6,359.7 884.9,362.8 885.1,365.5 885.3,366.9 885.6,366.8 885.8,369.8 885.9,367.2 886.1,367.5 886.2,365.1 886.4,364.2 886.5,362.4 886.7,359.4 886.8,359.1 887.0,356.9 887.1,353.9 887.3,352.3 887.4,351.0 888.0,348.1 888.6,347.6 889.3,347.8 889.9,343.5 890.5,343.2 890.9,341.6 891.3,338.3 891.7,336.4 892.1,336.4 892.5,333.3 892.9,332.3 893.0,332.6 893.2,334.6 893.4,337.9 893.5,339.5 893.6,339.3 893.8,341.8 893.9,345.8 894.1,345.2 894.2,348.0 894.4,349.5 895.0,347.7 895.7,347.3 896.3,345.1 897.0,344.2 897.6,341.8 898.3,340.1 898.6,340.7 899.0,342.2 899.3,343.5 899.6,347.4 900.0,346.7 900.3,348.0 900.6,352.6 901.0,351.7 901.3,355.5 901.6,354.4 902.0,357.2 902.3,358.9 902.9,356.4 903.6,356.8 904.2,354.6 904.9,353.1 905.6,351.9 906.2,349.5 906.4,348.9 906.6,345.5 906.8,344.5 907.0,342.3 907.1,339.4 907.3,340.0 907.5,337.5 907.7,335.4 910.1,333.8 911.1,333.5 912.2,330.3 913.2,329.9 914.8,330.8 916.3,331.4 917.9,332.3 918.3,334.8 918.7,334.6 919.1,337.3 919.5,339.5 919.9,340.0 920.3,343.2 921.1,344.8 921.9,346.8 922.7,347.3 923.5,349.4 924.3,350.4 925.1,349.0 925.8,346.0 926.6,344.7 927.4,343.4 928.6,346.2 929.9,345.3 931.1,347.1 931.7,348.4 932.3,348.8 932.9,350.7 933.5,353.1 934.1,350.5 934.8,351.5 935.4,349.3 936.0,347.1 936.6,350.0 937.2,352.1 937.8,352.6 938.4,355.3 939.0,355.6 939.7,354.0 940.5,351.9 941.2,351.9 942.0,350.1 942.7,347.1 943.5,350.0 944.2,350.0 945.0,352.5 945.7,353.1 947.2,351.0 948.8,349.5 948.9,352.9 949.1,354.5 949.2,354.3 949.4,356.8 949.8,359.9 950.1,359.2 950.5,360.6 950.8,364.3 951.2,365.3 951.3,366.3 951.4,368.8 951.6,370.8 951.7,370.6 951.8,373.8 953.2,375.7 954.5,375.2 955.9,376.8 957.3,378.1 957.6,375.9 958.0,375.6 958.3,373.9 958.7,370.8 959.0,368.5 959.4,367.5 959.7,366.5 960.9,367.4 962.2,367.6 963.4,370.2 963.9,370.9 964.3,374.7 964.8,376.3 965.2,377.5 966.2,380.7 967.2,382.3 968.2,382.4 969.8,384.2 971.3,383.6 971.9,384.7 972.5,385.6 973.1,387.6 973.7,389.7" fill="none" stroke="#FF0000" stroke-width="6.0" stroke-linejoin="round" stroke-linecap="round"/>
<polyline points="1133.6,207.6 1134.0,208.3 1134.4,209.5 1134.8,212.0 1135.2,212.8 1135.6,214.0 1136.0,217.0 1137.5,215.1 1139.1,213.8 1139.4,213.4 1139.7,211.2 1140.0,209.4 1140.2,205.9 1140.5,205.1 1140.8,202.5 1141.1,200.4 1141.4,199.7 1142.0,200.0 1142.6,201.9 1143.2,205.8 1143.8,206.0 1144.6,205.5 1145.3,203.8 1146.1,202.2 1146.9,199.7 1147.7,200.7 1148.5,203.6 1149.1,201.3 1149.7,200.6 1150.4,199.2 1151.0,197.9 1151.6,195.0 1153.2,194.7 1154.7,191.9 1156.0,191.6 1157.3,194.3 1158.6,195.0 1159.9,194.0 1161.3,191.9 1162.6,190.3 1164.5,188.1 1166.5,188.0 1167.3,189.5 1168.1,189.8 1168.8,194.1 1169.6,195.4 1170.4,195.8 1171.7,194.7 1173.0,192.6 1174.3,191.9 1174.7,194.8 1175.0,195.3 1175.4,197.8 1175.7,199.3 1176.1,199.7 1176.4,201.0 1176.8,203.2 1177.1,204.2 1177.5,204.9 1177.8,206.9 1178.2,209.1 1178.3,208.3 1178.4,204.1 1178.5,202.3 1178.7,202.4 1178.8,199.5 1178.9,198.5 1179.0,196.6 1180.3,197.5 1181.6,198.2 1182.9,199.7 1183.5,199.7 1184.0,195.6 1184.6,194.7 1185.1,192.5 1185.7,192.3 1186.2,189.6 1186.8,188.8 1187.6,189.9 1188.4,192.7 1189.2,193.5 1190.8,191.3 1192.3,190.3 1192.5,192.2 1192.6,195.1 1192.8,194.2 1192.9,195.8 1193.1,198.1 1193.3,201.5 1193.4,202.8 1193.6,203.3 1193.7,205.3 1193.9,207.6 1195.5,208.1 1197.0,210.7 1197.2,208.8 1197.5,205.7 1197.7,206.0 1197.9,204.8 1198.1,203.2 1198.4,200.7 1198.6,198.2 1198.9,201.4 1199.2,200.1 1199.5,202.7 1199.8,206.6 1200.2,207.7 1200.5,208.2 1200.8,211.7 1201.1,212.3 1201.4,214.7 1201.7,215.4 1202.1,213.1 1202.5,211.1 1202.8,210.3 1203.2,207.7 1203.6,206.8 1204.0,207.1 1204.3,203.4 1204.7,202.3 1205.4,199.0 1206.1,197.3 1206.8,196.0 1207.5,195.3 1207.7,198.0 1207.9,198.5 1208.1,200.0 1208.3,201.2 1208.5,205.8 1208.7,205.9 1208.9,207.9 1208.9,208.6 1208.9,209.7 1208.9,211.3 1208.8,213.2 1208.8,216.5 1208.8,216.4 1208.8,217.6 1208.8,220.7 1208.8,221.5 1208.7,225.5 1208.7,224.3 1208.7,227.2 1208.7,228.7 1208.8,231.2 1208.8,231.7 1208.9,235.3 1208.9,235.3 1209.0,236.2 1209.0,238.4 1209.1,238.9 1209.1,241.8 1209.2,242.9 1209.2,246.6 1209.3,248.1 1209.3,248.7 1209.4,250.4 1210.2,250.7 1210.9,253.3 1211.7,255.9 1212.2,253.3 1212.7,251.4 1213.3,249.6 1213.8,249.9 1214.3,246.9 1214.6,244.0 1214.9,242.0 1215.2,243.0 1215.4,240.1 1215.7,239.7 1216.0,236.1 1216.3,235.9 1216.6,232.9 1216.7,231.7 1216.8,230.5 1216.8,228.7 1216.9,226.3 1217.0,223.4 1217.1,222.1 1217.2,222.6 1217.3,221.0 1217.3,219.4 1217.4,215.9 1217.5,214.8 1217.4,213.6 1217.3,212.3 1217.1,210.1 1217.0,208.9 1216.9,206.3 1216.8,205.0 1216.6,203.4 1216.5,200.3 1216.4,200.7 1216.3,199.1 1216.1,194.6 1216.0,195.7 1215.9,192.5 1216.2,195.6 1216.6,196.3 1217.0,195.9 1217.3,200.3 1217.7,199.5 1218.0,202.3 1218.9,205.2 1219.8,205.6 1220.6,205.1 1221.5,207.9 1221.8,208.5 1222.1,211.7 1222.4,213.2 1222.7,215.5 1223.0,217.8 1223.3,217.2 1223.6,218.2 1223.9,222.9 1224.2,223.2 1227.0,221.8 1226.9,218.6 1226.9,219.8 1226.8,215.7 1226.8,216.4 1226.7,214.7 1226.7,213.4 1226.6,210.7 1226.6,210.2 1226.5,206.4 1226.5,206.3 1226.4,203.6 1226.4,203.8 1226.3,200.9 1227.3,199.7 1228.4,196.7 1229.8,195.2 1231.2,193.9 1232.6,192.6 1234.0,191.1 1234.5,191.3 1235.0,193.1 1235.6,196.7 1236.1,198.1 1236.2,199.9 1236.3,203.0 1236.4,204.0 1236.6,204.3 1236.7,206.9 1236.8,209.2 1237.2,208.5 1237.6,206.1 1238.0,202.9 1238.4,203.9 1238.8,202.3 1239.2,198.4 1239.6,198.1 1240.2,199.9 1240.8,201.0 1241.3,203.9 1241.9,204.0 1242.5,205.4 1243.1,207.9 1243.8,206.2 1244.4,206.1 1245.0,201.7 1245.7,201.3 1246.2,201.6 1246.6,204.8 1247.1,207.2 1247.5,207.6 1248.0,209.1 1248.4,210.5 1248.9,213.4 1249.3,214.7 1249.8,214.0 1250.2,218.2 1250.7,217.5 1251.1,219.4 1251.6,222.7 1252.0,223.2 1252.3,221.1 1252.6,220.4 1252.9,216.5 1253.2,216.9 1253.5,213.8 1254.0,211.2 1254.5,209.6 1254.9,209.1 1255.4,207.0 1255.9,206.0 1256.3,207.7 1256.7,210.4 1257.1,211.4 1257.4,210.7 1257.8,213.2 1258.2,215.4 1259.8,214.3 1261.3,213.0 1262.1,214.8 1262.9,217.4 1263.7,218.5 1263.4,220.5 1263.2,221.3 1262.9,224.8 1263.5,225.5 1264.1,229.0 1264.7,229.0 1265.3,231.0 1265.8,233.4 1266.3,235.7 1266.8,235.7 1267.1,237.9 1267.4,239.8 1267.7,241.3 1268.0,242.2 1268.3,245.8 1268.6,246.2 1268.9,249.4 1269.2,249.8 1270.2,247.6 1271.3,247.8 1272.3,245.1 1273.5,242.6 1273.9,241.9 1274.4,239.8 1274.8,237.6 1275.2,235.1 1275.7,235.5 1276.1,233.0 1276.4,234.2 1276.7,236.7 1276.9,236.6 1277.2,238.1 1277.5,239.9 1277.8,242.6 1278.0,245.3 1278.1,244.9 1278.3,248.9 1278.5,248.8 1278.6,251.2 1278.8,252.1 1278.9,254.6 1279.1,254.6 1279.3,257.3 1279.4,260.6 1279.6,260.9 1279.7,258.2 1279.7,258.1 1279.8,255.3 1279.9,253.6 1279.9,251.0 1280.0,249.4 1280.1,250.7 1280.1,248.6 1280.2,246.9 1280.3,245.2 1280.3,244.0 1280.4,240.9 1281.3,241.5 1282.1,244.6 1283.0,246.1 1283.4,244.3 1283.8,242.9 1284.2,242.3 1284.5,240.0 1284.9,238.9 1285.3,234.4 1285.7,233.9 1286.6,232.7 1287.4,231.0 1288.3,228.7 1289.0,231.2 1289.6,232.6 1290.2,235.0 1290.9,235.7 1292.0,233.3 1293.2,233.5 1294.3,230.4 1296.1,232.2 1296.2,233.6 1296.3,236.0 1296.4,238.7 1296.5,239.8 1296.7,240.3 1296.8,241.8 1296.9,243.8 1297.0,246.1 1298.7,247.4 1300.4,247.8 1300.8,247.6 1301.1,245.6 1301.5,242.3 1301.8,240.5 1302.2,239.1 1304.8,240.9 1305.5,243.6 1306.1,243.7 1306.8,245.8 1307.4,247.8 1308.2,248.0 1309.1,251.3 1309.5,248.6 1309.9,248.1 1310.3,247.0 1310.7,245.1 1311.0,242.6 1311.4,242.9 1311.8,240.2 1312.2,237.0 1312.6,236.5 1313.2,236.6 1313.9,241.1 1314.5,242.6 1315.2,242.6 1315.7,245.7 1316.2,246.4 1316.8,247.2 1317.3,248.3 1317.8,251.3 1318.5,252.3 1319.2,253.9 1319.9,257.9 1320.6,259.5 1321.3,260.0 1322.2,259.2 1323.0,255.4 1323.9,254.8 1324.8,252.2 1325.6,250.7 1326.5,249.6 1326.6,252.8 1326.8,252.0 1326.9,255.7 1327.0,257.1 1327.1,258.4 1327.3,261.4 1327.4,261.7 1328.3,259.2 1329.1,258.3 1330.0,256.5 1331.2,254.0 1332.3,252.3 1333.5,252.2 1333.7,252.6 1333.8,255.4 1334.0,256.7 1334.1,258.4 1334.3,261.7 1334.6,265.0 1334.9,264.5 1335.2,268.2 1335.5,269.3 1335.8,271.2 1336.1,272.2 1336.7,274.4 1337.2,277.1 1337.8,277.4 1338.5,280.4 1339.2,281.6 1339.9,282.8 1340.6,285.0 1341.3,286.1 1341.5,285.1 1341.8,282.8 1342.0,280.9 1342.3,278.0 1342.5,278.5 1342.8,275.6 1343.0,273.9 1343.9,274.3 1344.8,276.3 1345.6,280.3 1346.5,280.9 1347.4,281.8 1348.2,284.0 1349.1,286.7 1350.0,287.8 1350.7,290.7 1351.3,290.8 1351.9,292.7 1352.6,294.8 1353.0,296.3 1353.4,296.7 1353.9,301.2 1354.3,301.7 1354.6,301.9 1354.9,306.7 1355.2,305.8 1355.5,307.6 1355.8,311.6 1356.1,312.2 1356.0,314.9 1355.8,314.7 1355.7,317.3 1355.5,318.7 1355.4,321.2 1355.2,321.1 1355.1,324.8 1354.9,327.0 1354.8,327.1 1355.0,329.4 1355.1,331.7 1355.3,333.3 1355.5,333.2 1355.7,336.3 1355.8,337.9 1356.0,338.4 1357.1,337.2 1358.3,334.1 1359.4,333.9 1360.2,335.8 1360.9,338.2 1361.7,337.8 1362.4,340.4 1363.2,342.7 1363.9,342.9 1365.0,344.6 1366.2,344.3 1367.3,347.6 1368.4,348.6 1369.2,346.3 1369.9,346.7 1370.7,344.0 1371.5,346.0 1372.3,346.3 1373.1,349.6 1373.9,350.2 1374.7,350.8 1375.5,353.8 1376.3,354.2 1377.2,356.8 1378.2,358.1 1379.2,359.4 1380.1,360.0 1381.0,361.4 1382.0,362.1 1383.4,363.3 1384.8,363.9 1386.2,366.2 1387.6,365.5 1388.2,366.7 1388.8,367.6 1389.3,371.3 1389.9,372.3 1390.7,373.8 1391.4,375.4 1392.2,377.1 1392.9,377.5 1393.7,378.8 1394.4,381.3 1395.0,381.4 1395.5,385.2 1396.1,387.2 1396.7,388.0 1397.2,387.7 1397.8,390.4 1398.4,393.6 1398.9,394.8 1399.5,395.5 1400.1,395.5 1400.6,399.9 1401.2,400.5 1402.7,402.0 1404.2,403.2 1405.7,403.9 1407.1,403.5 1408.5,406.9 1409.9,405.8 1411.3,408.4 1412.7,409.5 1414.2,409.5 1415.6,411.3 1417.0,412.9 1418.1,415.5 1419.2,416.4 1420.4,418.0 1421.5,417.7 1422.6,419.7 1424.5,420.1 1426.4,421.6 1428.3,422.0" fill="none" stroke="#00B0F0" stroke-width="6.0" stroke-linejoin="round" stroke-linecap="round"/>
<polyline points="1133.3,295.9 1134.2,298.2 1135.2,300.4 1136.1,301.5 1136.1,300.8 1136.1,299.7 1136.1,297.4 1136.1,296.4 1136.1,291.9 1136.1,291.6 1136.1,291.5 1136.1,289.0 1136.1,288.2 1136.1,284.0 1136.1,283.5 1136.1,282.0 1136.6,282.8 1137.0,285.4 1137.5,287.1 1138.0,286.9 1138.4,289.2 1138.9,291.7 1139.6,289.2 1140.3,289.4 1141.0,286.2 1141.3,288.6 1141.6,288.3 1141.9,291.9 1142.2,291.4 1142.5,294.5 1142.8,294.5 1143.1,297.3 1143.6,294.1 1144.0,295.3 1144.5,291.5 1145.0,289.9 1145.4,290.8 1145.9,287.6 1146.4,290.5 1146.9,290.4 1147.4,294.3 1147.9,294.5 1148.2,293.0 1148.6,291.8 1149.0,288.7 1149.3,289.4 1149.7,287.0 1150.0,284.8 1150.3,287.9 1150.7,289.3 1151.0,289.0 1151.4,290.8 1151.8,291.8 1152.1,294.5 1152.3,291.7 1152.6,289.7 1152.8,288.8 1153.0,288.0 1153.3,284.4 1153.5,284.9 1153.7,282.1 1154.0,280.3 1154.2,279.2 1154.9,282.0 1155.6,282.6 1156.3,283.9 1157.0,286.2 1157.9,288.0 1158.9,290.5 1159.8,291.7 1159.7,288.6 1159.7,289.9 1159.6,285.2 1159.5,285.8 1159.4,284.5 1159.4,280.1 1159.3,280.9 1159.2,277.9 1159.2,276.9 1159.1,275.0 1159.4,271.8 1159.7,270.4 1160.0,269.2 1160.3,270.1 1160.6,266.1 1160.9,266.3 1161.2,263.9 1163.9,263.9 1166.7,263.9 1166.6,266.9 1166.4,268.7 1166.3,268.4 1166.1,270.1 1166.0,272.3 1165.9,274.8 1165.7,274.3 1165.6,278.1 1165.4,279.9 1165.3,280.6 1166.0,280.0 1166.7,275.6 1167.4,276.8 1168.1,273.6 1168.6,273.9 1169.0,276.4 1169.5,278.9 1170.0,281.5 1170.4,281.3 1170.9,283.4 1171.8,283.0 1172.7,280.0 1173.5,277.5 1174.4,276.4 1174.7,277.4 1175.0,278.6 1175.3,279.9 1175.6,281.7 1175.9,285.0 1176.2,287.6 1176.5,287.6 1177.3,287.9 1178.2,288.9 1179.1,293.3 1179.9,293.1 1180.2,291.4 1180.5,289.2 1180.8,286.9 1181.1,286.3 1181.4,285.2 1181.7,282.2 1182.0,280.6 1182.7,282.2 1183.4,282.9 1184.1,286.2 1184.4,289.1 1184.7,287.9 1185.0,290.9 1185.3,293.6 1185.6,292.9 1185.9,296.5 1186.2,297.3 1189.0,298.7 1189.3,298.6 1189.7,296.0 1190.0,294.9 1190.4,291.2 1190.8,290.7 1191.1,288.2 1191.5,288.9 1191.8,286.2 1193.2,284.1 1194.5,283.4 1194.9,281.6 1195.3,281.6 1195.8,279.5 1196.2,278.2 1196.6,275.0 1196.8,273.2 1197.0,271.6 1197.2,270.7 1197.4,268.3 1197.7,266.0 1197.9,264.7 1198.1,262.2 1198.3,261.2 1198.5,261.5 1198.7,258.3 1198.7,261.4 1198.8,262.0 1198.8,263.3 1198.9,264.4 1198.9,265.3 1199.0,267.5 1199.0,270.8 1199.1,272.7 1199.1,272.8 1199.1,275.8 1199.2,277.4 1199.2,278.8 1199.3,280.4 1199.3,282.3 1199.4,282.7 1199.4,284.8 1199.4,287.1 1199.5,287.4 1199.5,289.7 1199.6,292.3 1199.6,293.7 1199.7,294.0 1199.7,297.8 1199.8,298.5 1199.8,299.9 1199.8,299.7 1199.9,303.1 1199.9,303.8 1200.0,306.8 1200.0,307.8 1200.1,310.6 1200.1,311.2 1200.5,313.3 1200.9,315.5 1201.4,315.7 1201.8,318.3 1202.2,319.5 1202.4,318.7 1202.6,317.4 1202.8,314.2 1203.1,314.2 1203.3,312.7 1203.5,310.5 1203.7,309.8 1203.9,308.2 1204.1,305.2 1204.4,303.6 1204.6,300.8 1204.8,301.4 1205.0,298.7 1205.5,301.8 1206.0,302.1 1206.6,304.5 1207.1,305.6 1207.4,308.1 1207.7,309.9 1208.0,309.9 1208.2,313.6 1208.5,314.8 1208.8,316.8 1209.1,318.1 1209.4,316.1 1209.8,315.0 1210.2,313.8 1210.5,311.6 1210.8,310.1 1211.2,306.2 1211.6,304.8 1211.9,304.2 1212.1,305.6 1212.2,307.9 1212.4,308.1 1212.5,311.2 1212.7,312.7 1212.9,312.4 1213.0,315.4 1213.2,316.2 1213.4,317.2 1213.5,319.1 1213.7,321.3 1213.8,322.5 1214.0,325.1 1214.2,322.4 1214.3,320.2 1214.5,319.9 1214.6,317.9 1214.8,316.9 1215.0,315.1 1215.1,312.3 1215.3,312.7 1215.5,308.1 1215.6,307.7 1215.8,305.6 1215.9,304.3 1216.1,302.9 1216.4,303.3 1216.7,307.3 1216.9,307.5 1217.2,308.1 1217.5,311.6 1217.8,311.6 1218.1,314.7 1218.3,315.7 1218.6,318.1 1218.9,319.5 1220.0,317.4 1220.2,317.1 1220.3,314.9 1220.5,311.9 1220.7,311.4 1220.8,309.2 1221.0,306.5 1221.2,304.1 1221.4,303.8 1221.5,301.9 1221.7,300.0 1222.1,299.7 1222.4,298.0 1222.8,295.1 1223.2,292.6 1223.6,292.5 1223.9,287.9 1224.3,287.8 1224.4,288.2 1224.4,291.3 1224.5,293.1 1224.5,293.2 1224.6,296.4 1224.6,298.8 1224.7,298.8 1224.8,300.6 1224.8,301.6 1224.9,303.4 1224.9,307.3 1225.0,307.0 1225.0,310.5 1225.1,312.0 1225.1,312.6 1225.2,313.9 1226.4,312.0 1227.5,313.1 1228.7,310.4 1229.0,308.6 1229.2,306.6 1229.5,304.6 1229.7,305.0 1230.0,301.7 1230.3,299.3 1230.5,298.1 1230.8,295.3 1231.0,295.1 1231.3,293.0 1231.7,291.1 1232.2,288.9 1232.6,288.7 1233.0,287.1 1233.5,282.8 1233.9,282.6 1234.0,284.3 1234.1,285.1 1234.3,288.9 1234.4,290.0 1234.5,289.9 1234.6,291.6 1234.7,292.9 1234.9,297.2 1235.0,296.6 1235.1,299.2 1235.2,300.4 1235.3,302.6 1235.5,304.1 1235.6,306.2 1235.7,307.0 1235.8,304.2 1235.9,304.6 1236.0,301.5 1236.2,300.6 1236.3,298.3 1236.4,296.6 1236.5,295.7 1236.6,293.9 1236.7,291.9 1236.8,291.5 1236.9,289.4 1237.1,286.0 1237.2,285.1 1237.3,284.1 1237.4,282.6 1237.7,282.2 1238.1,280.4 1238.4,277.5 1238.8,274.1 1239.1,273.9 1239.2,276.4 1239.4,277.0 1239.5,279.1 1239.7,281.1 1239.8,282.5 1240.0,283.7 1240.1,286.7 1240.3,286.7 1240.4,288.4 1240.5,291.5 1240.7,291.0 1240.8,293.0 1241.0,296.3 1241.1,295.5 1241.3,299.6 1241.4,300.8 1241.6,301.6 1241.7,303.5 1242.1,304.5 1242.6,307.9 1243.0,310.0 1243.4,309.3 1243.9,312.1 1244.3,313.9 1244.5,312.3 1244.8,310.4 1245.0,308.1 1245.2,305.8 1245.4,305.5 1245.6,304.5 1245.9,300.4 1246.1,300.0 1246.6,300.9 1247.1,304.5 1247.7,306.2 1248.2,307.5 1248.7,308.7 1249.0,305.4 1249.2,305.9 1249.5,305.0 1249.7,303.3 1250.0,300.6 1250.3,296.8 1250.5,297.6 1250.8,293.9 1251.0,293.5 1251.3,291.3 1251.5,294.3 1251.7,295.2 1252.0,294.9 1252.2,297.0 1252.4,300.6 1252.6,299.7 1252.8,302.8 1253.0,303.8 1253.2,304.5 1253.5,307.6 1253.7,307.3 1253.9,310.4 1254.0,307.5 1254.2,306.7 1254.3,304.1 1254.5,302.4 1254.6,302.4 1254.8,301.3 1254.9,300.1 1255.1,296.1 1255.2,295.4 1255.3,293.4 1255.5,292.7 1255.6,290.7 1255.8,290.5 1255.9,287.1 1256.1,284.4 1256.2,284.8 1256.4,281.4 1256.5,280.9 1256.7,283.1 1256.9,284.4 1257.1,287.4 1257.3,288.0 1257.5,290.0 1257.7,290.5 1257.9,293.2 1258.1,294.0 1258.3,296.5 1258.5,295.7 1258.7,293.4 1259.0,290.6 1259.2,289.3 1259.4,288.1 1259.6,287.7 1259.8,284.3 1260.0,284.4 1260.2,282.7 1260.5,279.3 1260.7,279.5 1260.9,277.4 1261.6,277.8 1262.2,279.6 1262.8,282.9 1263.5,284.3 1263.8,285.2 1264.1,289.0 1264.4,289.5 1264.7,290.7 1264.9,294.0 1265.2,293.3 1265.5,297.2 1265.8,296.8 1266.1,300.0 1266.3,300.6 1266.6,304.9 1266.8,305.8 1267.1,306.1 1267.3,307.5 1267.6,312.0 1267.8,312.2 1268.7,311.0 1269.5,309.8 1270.4,307.0 1270.9,307.6 1271.3,310.8 1271.8,311.7 1272.2,313.9 1272.3,311.4 1272.4,310.1 1272.5,309.4 1272.6,306.9 1272.7,305.4 1272.8,302.9 1272.9,303.5 1273.0,301.3 1273.1,300.2 1273.2,297.3 1273.3,297.0 1273.4,294.3 1273.5,292.9 1273.6,291.2 1273.7,290.1 1273.8,287.4 1273.9,286.1 1274.1,286.5 1274.4,288.1 1274.6,290.4 1274.8,291.6 1275.0,296.0 1275.2,296.5 1275.5,299.1 1275.7,300.0 1276.1,300.2 1276.6,303.4 1277.0,306.5 1277.4,307.0 1280.0,305.2 1281.1,306.9 1282.2,307.6 1283.2,309.0 1284.3,310.4 1285.8,308.0 1287.2,307.0 1288.7,307.0 1289.2,307.6 1289.7,310.1 1290.3,311.9 1290.8,315.2 1291.3,315.7 1291.8,316.2 1292.4,318.2 1293.0,319.9 1293.5,321.1 1294.0,323.1 1294.6,324.6 1295.2,327.0 1295.7,328.7 1296.6,325.7 1297.4,327.1 1298.3,324.3 1298.8,322.2 1299.3,322.3 1299.9,319.7 1300.4,318.0 1300.9,315.7 1301.3,317.3 1301.8,320.6 1302.2,319.7 1302.6,323.2 1303.0,323.7 1303.5,326.7 1303.9,328.6 1304.3,329.6 1304.8,326.8 1305.2,325.1 1305.7,322.8 1306.1,321.7 1306.5,319.5 1307.0,319.1 1308.1,320.0 1309.3,322.9 1310.4,322.6 1312.6,323.0 1314.8,324.3 1316.5,324.9 1318.3,326.5 1320.0,327.8 1320.7,328.6 1321.4,331.4 1322.2,332.8 1322.9,332.5 1323.6,334.2 1324.3,336.5 1325.0,338.8 1325.7,341.4 1326.4,342.2 1327.1,343.2 1327.8,345.2 1328.9,345.2 1330.0,340.6 1331.1,339.2 1332.2,339.1 1332.6,341.8 1333.0,342.3 1333.3,342.9 1333.7,346.3 1334.1,349.5 1334.5,349.7 1334.7,348.1 1334.8,346.0 1335.0,343.6 1335.1,341.9 1335.3,342.9 1335.4,340.0 1335.6,338.4 1336.8,338.7 1337.9,334.7 1339.0,334.2 1340.2,333.9 1340.4,334.1 1340.5,336.8 1340.7,337.3 1340.8,339.6 1341.0,341.7 1341.1,343.0 1341.3,345.2 1341.8,345.6 1342.2,347.3 1342.7,352.1 1343.1,351.4 1343.6,354.2 1345.2,355.9 1346.9,357.6 1346.9,359.3 1346.9,361.7 1346.9,362.2 1346.9,365.5 1347.8,366.3 1348.6,367.1 1349.5,369.9 1350.3,371.2 1351.8,371.4 1353.3,369.2 1354.8,367.8 1355.9,370.4 1357.1,369.9 1358.2,372.3 1359.6,369.6 1361.1,370.2 1362.5,368.9 1363.9,367.8 1365.8,368.8 1367.6,368.9 1369.5,370.0 1370.9,371.5 1372.3,373.0 1373.8,374.7 1375.2,374.5 1375.8,375.6 1376.3,377.7 1376.9,380.6 1377.4,381.3 1378.5,381.9 1379.7,383.1 1380.8,385.8 1381.9,386.7 1383.1,387.5 1384.2,390.4 1385.3,390.1 1386.5,389.2 1387.6,387.0 1389.3,385.8 1391.0,385.8 1392.5,383.9 1394.0,383.0 1395.5,383.6 1396.6,384.3 1397.8,385.3 1398.9,388.1 1400.4,389.0 1401.9,390.6 1403.4,391.5 1405.3,391.1 1407.2,390.8 1409.1,392.6 1409.9,394.9 1410.8,394.6 1411.7,396.7 1412.5,399.4 1413.9,400.1 1415.3,401.8 1416.7,402.3 1418.1,405.0 1419.2,406.4 1420.4,408.4" fill="none" stroke="#FF0000" stroke-width="6.0" stroke-linejoin="round" stroke-linecap="round"/>
<path d="M433.6,151.3l0,-5.7M433.6,151.3l5.4,-1.5M433.6,151.3l3.4,5.4M433.6,151.3l-3.4,5.4M433.6,151.3l-5.4,-1.5" stroke="#000" stroke-width="2.8" stroke-linecap="round" fill="none"/>
<path d="M873.8,265.3l0,-5.7M873.8,265.3l5.4,-1.5M873.8,265.3l3.4,5.4M873.8,265.3l-3.4,5.4M873.8,265.3l-5.4,-1.5" stroke="#000" stroke-width="2.8" stroke-linecap="round" fill="none"/>
<path d="M1389.6,327.3l0,-5.7M1389.6,327.3l5.4,-1.5M1389.6,327.3l3.4,5.4M1389.6,327.3l-3.4,5.4M1389.6,327.3l-5.4,-1.5" stroke="#000" stroke-width="2.8" stroke-linecap="round" fill="none"/>
</svg>
</body></html>
